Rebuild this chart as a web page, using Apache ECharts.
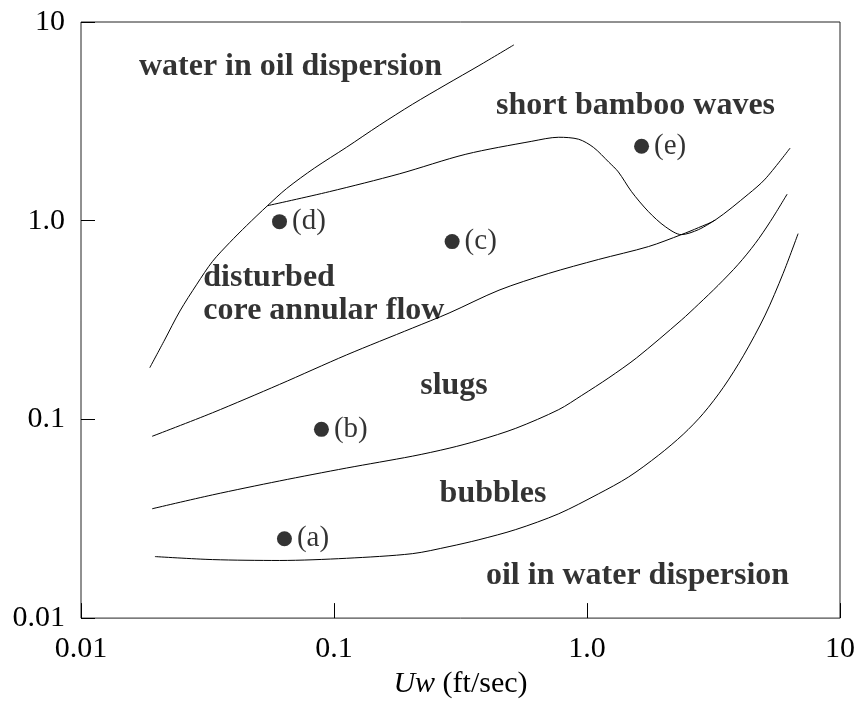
<!DOCTYPE html>
<html>
<head>
<meta charset="utf-8">
<script src="https://cdn.jsdelivr.net/npm/echarts@6/dist/echarts.min.js"></script>
<style>html,body{margin:0;padding:0;background:#fff}#c{width:858px;height:704px}</style>
</head>
<body>
<div id="c"></div>
<script>
// ---- data ----
var tickValues = [0.01, 0.1, 1, 10];
var xTickLabels = ['0.01', '0.1', '1.0', '10'];
var yTickLabels = ['0.01', '0.1', '1.0', '10'];

// water in oil dispersion boundary
var curveWaterInOil = [[0.0187,0.182],[0.0214,0.251],[0.0246,0.351],[0.0287,0.479],[0.0331,0.624],[0.0387,0.776],[0.0451,0.944],[0.0546,1.19],[0.0649,1.45],[0.0837,1.84],[0.112,2.34],[0.151,3.02],[0.204,3.85],[0.277,4.84],[0.374,6.03],[0.514,7.67]];
// short bamboo waves boundary
var curveBamboo = [[0.0546,1.19],[0.0959,1.40],[0.181,1.72],[0.332,2.16],[0.605,2.51],[0.773,2.63],[0.927,2.57],[1.06,2.34],[1.22,1.97],[1.33,1.76],[1.50,1.40],[1.75,1.11],[2.04,0.933],[2.36,0.851],[2.76,0.902],[3.22,1.01]];
// disturbed core annular flow / slugs boundary
var curveCaf = [[0.0191,0.0822],[0.0331,0.108],[0.0609,0.150],[0.112,0.211],[0.204,0.288],[0.285,0.343],[0.449,0.447],[0.706,0.543],[1.11,0.638],[1.75,0.741],[2.36,0.851],[2.76,0.923],[3.22,1.01],[4.34,1.36],[5.06,1.62],[6.35,2.32]];
// slugs / bubbles boundary
var curveSlugs = [[0.0191,0.0355],[0.0331,0.0417],[0.0609,0.0490],[0.112,0.0569],[0.204,0.0653],[0.285,0.0716],[0.374,0.0785],[0.523,0.0902],[0.773,0.112],[0.953,0.132],[1.22,0.162],[1.57,0.204],[2.36,0.316],[2.76,0.380],[3.30,0.473],[3.96,0.603],[4.62,0.767],[5.30,0.989],[6.18,1.36]];
// bubbles / oil in water dispersion boundary
var curveBubbles = [[0.0196,0.0204],[0.0331,0.0197],[0.0609,0.0195],[0.112,0.0200],[0.204,0.0211],[0.285,0.0229],[0.374,0.0248],[0.523,0.0279],[0.773,0.0335],[1.11,0.0422],[1.46,0.0513],[1.92,0.0661],[2.40,0.0841],[2.88,0.107],[3.46,0.145],[4.15,0.209],[5.06,0.335],[5.96,0.543],[6.83,0.861]];

// experimental points
var pointNames = ['(a)', '(b)', '(c)', '(d)', '(e)'];
var pointX = [0.0637, 0.0892, 0.293, 0.0609, 1.643];
var pointY = [0.0251, 0.0891, 0.785, 0.989, 2.371];

// regime labels (anchor points)
var regimeNames = ['water in oil dispersion', 'short bamboo waves', 'slugs', 'bubbles', 'oil in water dispersion'];
var regimeX = [0.0673, 1.555, 0.298, 0.425, 1.584];
var regimeY = [5.96, 3.80, 0.148, 0.0422, 0.0164];
var cafName = 'disturbed\ncore annular flow';
var cafX = 0.0303, cafY = 0.427;

// ---- chart ----
var FONT = '"Liberation Serif", "Times New Roman", Times, serif';
function idxOf(v) { return Math.round(Math.log(v) / Math.LN10) + 2; }

var lineStyle = { color: '#000', width: 1 };
function curve(data) {
  return { type: 'line', data: data, smooth: 0.3, showSymbol: false, symbol: 'none', lineStyle: lineStyle, silent: true, z: 2 };
}

var pts = pointNames.map(function (n, i) {
  return { name: n, value: [pointX[i], pointY[i]] };
});
var regs = regimeNames.map(function (n, i) {
  return { name: n, value: [regimeX[i], regimeY[i]] };
});

var option = {
  animation: false,
  backgroundColor: '#fff',
  grid: { left: 81, right: 16, top: 22, bottom: 82, show: true, borderColor: '#222', borderWidth: 1, backgroundColor: 'transparent' },
  xAxis: {
    type: 'log', logBase: 10, min: 0.01, max: 10,
    name: '{i|Uw} (ft/sec)', nameLocation: 'middle', nameGap: 37,
    nameTextStyle: { fontFamily: FONT, fontSize: 30, color: '#000', rich: { i: { fontFamily: FONT, fontSize: 30, fontStyle: 'italic', color: '#000' } } },
    axisLine: { show: false },
    axisTick: { show: true, inside: true, length: 15, lineStyle: { color: '#000', width: 1 } },
    minorTick: { show: false },
    splitLine: { show: false },
    axisLabel: { fontFamily: FONT, fontSize: 30, color: '#000', margin: 16,
      formatter: function (v) { return xTickLabels[idxOf(v)]; } }
  },
  yAxis: {
    type: 'log', logBase: 10, min: 0.01, max: 10,
    axisLine: { show: false },
    axisTick: { show: true, inside: true, length: 14, lineStyle: { color: '#000', width: 1 } },
    splitLine: { show: false },
    axisLabel: { fontFamily: FONT, fontSize: 30, color: '#000', margin: 16,
      formatter: function (v) { return yTickLabels[idxOf(v)]; } }
  },
  series: [
    curve(curveWaterInOil),
    curve(curveBamboo),
    curve(curveCaf),
    curve(curveSlugs),
    curve(curveBubbles),
    {
      type: 'scatter', data: pts, symbol: 'circle', symbolSize: 15, silent: true, z: 3,
      itemStyle: { color: '#000' },
      label: { show: true, position: 'right', distance: 5, formatter: '{b}', fontFamily: FONT, fontSize: 29, color: '#000' }
    },
    {
      type: 'scatter', data: regs, symbolSize: 1, silent: true, z: 4,
      itemStyle: { color: 'rgba(0,0,0,0)' },
      label: { show: true, position: 'inside', formatter: '{b}', fontFamily: FONT, fontSize: 32, fontWeight: 'bold', color: '#000' }
    },
    {
      type: 'scatter', data: [{ name: cafName, value: [cafX, cafY] }], symbolSize: 1, silent: true, z: 4,
      itemStyle: { color: 'rgba(0,0,0,0)' },
      label: { show: true, position: 'right', distance: 0, align: 'left', formatter: '{b}', fontFamily: FONT, fontSize: 32, fontWeight: 'bold', lineHeight: 33, color: '#000' }
    }
  ]
};
var chart = echarts.init(document.getElementById('c'), null, { renderer: 'canvas' });
chart.setOption(option);
</script>
</body>
</html>
